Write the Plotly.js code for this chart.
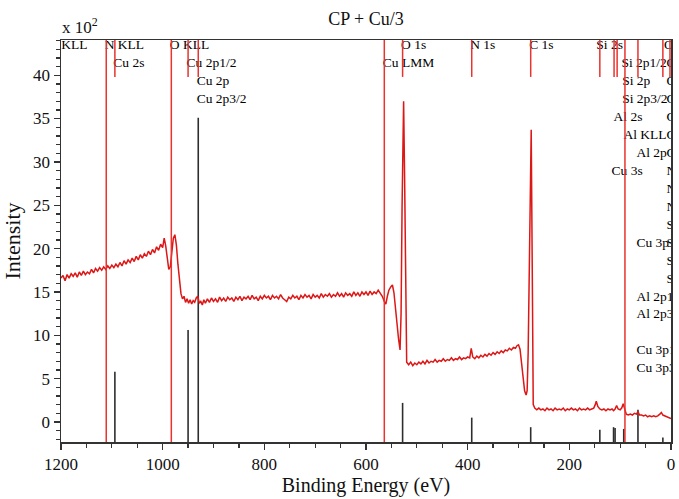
<!DOCTYPE html>
<html>
<head>
<meta charset="utf-8">
<script src="https://cdn.plot.ly/plotly-3.0.1.min.js"></script>
<style>html,body{margin:0;padding:0;background:#fff;}#chart{width:679px;height:499px;}</style>
</head>
<body>
<div id="chart"></div>
<script>
// Measured spectrum (binding energy in eV, intensity in units of 10^2)
const specE = [1200,1196,1192,1188,1184,1180,1176,1172,1168,1164,1160,1156,1152,1148,1144,1140,1136,1132,1128,1124,1120,1116,1112,1108,1104,1100,1096,1092,1088,1084,1080,1076,1072,1068,1064,1060,1056,1052,1048,1044,1040,1036,1032,1028,1024,1020,1016,1012,1008,1004,1000,997,994,991,988,985,982,979,976,973,970,967,964,961,958,955,952,949,946,943,940,937,934,931,928,925,922,919,916,912,908,904,900,896,892,888,884,880,876,872,868,864,860,856,852,848,844,840,836,832,828,824,820,816,812,808,804,800,796,792,788,784,780,776,772,768,764,760,756,752,748,744,740,736,732,728,724,720,716,712,708,704,700,696,692,688,684,680,676,672,668,664,660,656,652,648,644,640,636,632,628,624,620,616,612,608,604,600,596,592,588,584,580,576,572,568,564,561,558,555,551,548,545,542,539,536,533,531,529,527,526,524,522,520,516,512,508,504,500,496,492,488,484,480,476,472,468,464,460,456,452,448,444,440,436,432,428,424,420,416,412,408,404,400,396,393,390,386,382,378,374,370,366,362,358,354,350,346,342,338,334,330,326,322,318,314,310,306,303,300,297,294,291,288,285,283,281,279,277,275,273,271,268,264,260,256,252,248,244,240,236,232,228,224,220,216,212,208,204,200,196,192,188,184,180,176,172,168,164,160,156,152,149,147,144,140,136,132,128,124,120,116,113,110,107,104,100,97,94,91,88,84,80,76,72,68,65,62,58,54,50,46,42,38,34,30,26,22,19,16,12,8,4,0];
const specI = [16.6,16.9,16.3,17.0,16.6,17.1,16.8,17.2,16.7,17.3,16.9,17.4,17.0,17.3,17.1,17.6,17.2,17.7,17.4,17.8,17.5,17.9,17.6,18.0,17.7,18.1,17.8,18.2,17.9,18.4,18.0,18.6,18.2,18.7,18.4,18.9,18.5,19.1,18.7,19.3,18.9,19.4,19.1,19.7,19.3,19.9,19.5,20.2,19.8,20.5,20.1,21.2,20.3,18.8,17.6,17.9,19.8,21.2,21.6,20.4,18.2,16.0,14.8,14.2,14.5,13.8,14.2,13.7,14.1,13.6,14.0,13.8,14.3,14.5,13.7,13.9,13.5,14.1,13.7,14.2,13.8,14.3,13.9,14.2,13.8,14.4,14.0,14.3,13.9,14.4,14.1,14.3,13.9,14.4,14.1,14.5,14.0,14.4,14.2,14.5,14.1,14.6,14.2,14.4,14.0,14.5,14.2,14.6,14.3,14.5,14.1,14.6,14.3,14.5,14.2,14.7,14.3,14.1,13.9,14.4,14.2,14.6,14.3,14.5,14.1,14.6,14.3,14.7,14.4,14.6,14.2,14.7,14.4,14.6,14.3,14.8,14.4,14.7,14.5,14.8,14.4,14.7,14.5,14.9,14.5,14.8,14.4,14.9,14.6,14.8,14.5,15.0,14.6,14.9,14.5,15.0,14.7,15.0,14.6,15.1,14.7,15.0,14.8,15.2,14.8,14.5,13.9,13.6,14.5,15.2,15.6,15.8,14.9,13.0,11.5,9.6,8.3,12.5,25.0,34.0,37.0,28.0,12.0,6.9,6.6,6.9,6.5,6.8,6.6,6.9,6.7,7.0,6.7,7.1,6.8,7.0,6.9,7.2,6.9,7.1,7.0,7.3,7.0,7.2,7.1,7.4,7.1,7.3,7.2,7.5,7.2,7.4,7.3,7.5,7.4,8.5,7.5,7.3,7.6,7.4,7.7,7.5,7.8,7.6,7.9,7.7,8.0,7.8,8.1,7.9,8.2,8.0,8.3,8.2,8.5,8.3,8.6,8.5,8.8,8.9,8.4,7.0,5.0,3.6,3.1,3.6,8.0,18.7,29.0,33.7,18.0,2.0,1.6,1.4,1.6,1.4,1.5,1.3,1.6,1.4,1.5,1.3,1.6,1.4,1.5,1.4,1.6,1.3,1.5,1.4,1.6,1.4,1.5,1.3,1.6,1.4,1.5,1.4,1.6,1.4,1.5,1.6,2.0,2.4,1.8,1.5,1.4,1.5,1.3,1.5,1.4,1.5,1.3,1.5,1.9,1.5,1.4,1.6,2.1,1.4,0.9,0.8,0.9,0.8,1.0,0.9,1.2,0.8,0.8,0.7,0.8,0.6,0.7,0.6,0.7,0.6,0.7,0.9,1.1,0.8,0.7,0.6,0.5,0.4];

// Reference stick spectrum (energy, top height)
const stickE = [1094, 950, 930, 528, 392, 276, 140, 113, 110, 93, 65, 16];
const stickH = [5.8, 10.6, 35.1, 2.2, 0.5, -0.6, -0.9, -0.6, -0.7, -0.8, 1.4, -1.8];

// Auger marker lines (full height) and photoelectron marker lines (short)
const augerE = [1111, 983, 564, 90.6];
const peakMarkE = [1094, 950, 930, 528, 392, 276, 140, 112, 106, 65, 16, 2];

// Peak labels: text, energy of left edge, row number from the top
const labelText = ["C KLL","N KLL","O KLL","O 1s","N 1s","C 1s","Si 2s","O 2s",
  "Cu 2s","Cu 2p1/2","Cu LMM","Si 2p1/2","O 2s",
  "Cu 2p","Si 2p","O 2s",
  "Cu 2p3/2","Si 2p3/2","C KLL",
  "Al 2s","C 1s",
  "Al KLL","Cu 3d",
  "Al 2p","C",
  "Cu 3s","N 1s","N","N","S 2p",
  "Cu 3p","S 2s","S","S",
  "Al 2p1/2","Al 2p3/2","Cu 3p1/2","Cu 3p3/2"];
const labelE = [1221, 1111, 983, 528, 392, 276, 144, 11,
  1094, 950, 564, 94.5, 6,
  930, 93, 6,
  930, 93, 6,
  110, 6,
  90.6, 6,
  65, 6,
  114, 6, 6, 6, 6,
  65, 6, 6, 6,
  65, 65, 65, 65];
const labelRow = [1,1,1,1,1,1,1,1,
  2,2,2,2,2,
  3,3,3,
  4,4,4,
  5,5,
  6,6,
  7,7,
  8,8,9,10,11,
  12,12,13,14,
  15,16,18,19];

const yMin = -2.31, yMax = 44.06;
const rowTopY = 43.45, rowStep = 2.075;
const labelShiftEV = 3;   // nudge text so it starts right at its marker line
const serif = '"Liberation Serif", "Times New Roman", serif';

// Stick traces (null-separated segments from plot bottom)
const sx = [], sy = [];
stickE.forEach((e, i) => { sx.push(e, e, null); sy.push(yMin, stickH[i], null); });

const shapes = [];
augerE.forEach(e => shapes.push({type:'line', xref:'x', yref:'paper', x0:e, x1:e, y0:0, y1:1,
  line:{color:'#e8332f', width:1.5}, layer:'above'}));
peakMarkE.forEach(e => shapes.push({type:'line', xref:'x', yref:'y', x0:e, x1:e, y0:39.8, y1:yMax,
  line:{color:'#e8332f', width:1.5}, layer:'above'}));

const traces = [
  {x: sx, y: sy, mode:'lines', line:{color:'#2e2e2e', width:1.6}, hoverinfo:'skip', showlegend:false},
  {x: specE, y: specI, mode:'lines', line:{color:'#dd1616', width:1.5}, showlegend:false},
  {x: labelE.map(e => e + labelShiftEV), y: labelRow.map(r => rowTopY - (r-1)*rowStep), mode:'text', text: labelText,
   textposition:'middle right', cliponaxis:true,
   textfont:{family:serif, size:13.5, color:'#000'}, hoverinfo:'skip', showlegend:false}
];

const layout = {
  width:679, height:499,
  margin:{l:61, r:8, t:40, b:57},
  paper_bgcolor:'#fff', plot_bgcolor:'#fff',
  title:{text:'CP + Cu/3', x:0.5, xref:'paper', y:0.963, yanchor:'middle', font:{family:serif, size:18, color:'#111'}},
  xaxis:{range:[1200,0], tickvals:[1200,1000,800,600,400,200,0], ticktext:['1200','1000','800','600','400','200','0'],
    ticks:'outside', ticklen:6, tickwidth:1.3, tickcolor:'#333',
    minor:{tickvals:[1150,1100,1050,950,900,850,750,700,650,550,500,450,350,300,250,150,100,50], ticks:'outside', ticklen:4, tickcolor:'#333', showgrid:false},
    showline:true, linecolor:'#333', linewidth:1.5, mirror:true, showgrid:false, zeroline:false,
    tickfont:{family:serif, size:17, color:'#111'},
    title:{text:'Binding Energy (eV)', font:{family:serif, size:20, color:'#111'}, standoff:2}},
  yaxis:{range:[yMin, yMax], tickvals:[0,5,10,15,20,25,30,35,40],
    ticks:'outside', ticklen:6, tickwidth:1.3, tickcolor:'#333',
    minor:{dtick:1, ticks:'outside', ticklen:4, tickcolor:'#333', showgrid:false},
    showline:true, linecolor:'#333', linewidth:1.5, mirror:true, showgrid:false, zeroline:false,
    tickfont:{family:serif, size:17, color:'#111'},
    title:{text:'Intensity', font:{family:serif, size:22, color:'#111'}, standoff:6}},
  shapes: shapes,
  annotations:[{text:'x 10<sup>2</sup>', xref:'paper', yref:'paper', x:-0.002, y:1.002, xanchor:'left', yanchor:'bottom',
    showarrow:false, font:{family:serif, size:17, color:'#111'}}]
};

Plotly.newPlot('chart', traces, layout, {displayModeBar:false, staticPlot:true});
</script>
</body>
</html>
